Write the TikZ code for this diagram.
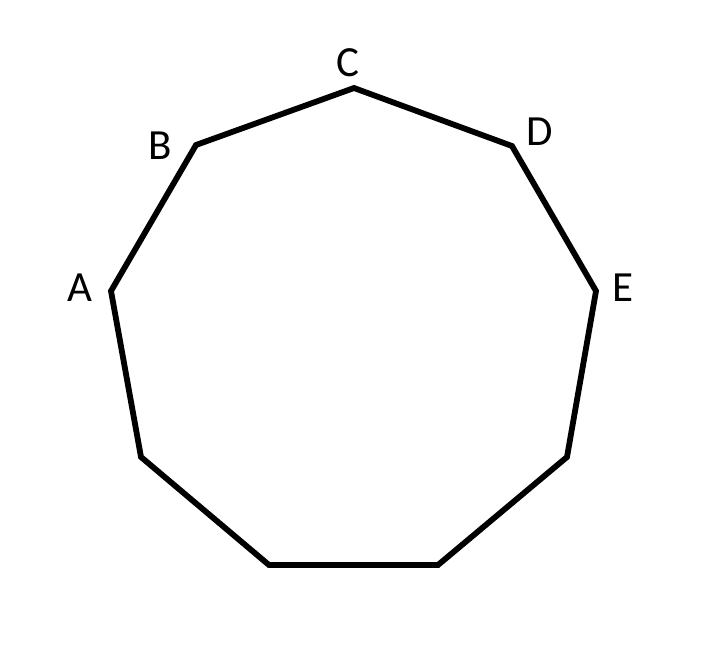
\documentclass[tikz,border=0pt]{standalone}
\usepackage{fontspec}
\setmainfont{Carlito}
\begin{document}
\begin{tikzpicture}[x=1pt,y=-1pt,
  edge/.style={line width=5.8pt,line join=miter,black},
  lab/.style={inner sep=0pt,font=\fontsize{43}{50}\selectfont}]
\useasboundingbox (0,0) rectangle (711,662);
\coordinate (A) at (111,291);
\coordinate (B) at (196,145);
\coordinate (C) at (354,88);
\coordinate (D) at (512,146);
\coordinate (E) at (596,291);
\coordinate (F) at (567,457);
\coordinate (G) at (438,565);
\coordinate (H) at (269,565);
\coordinate (I) at (141,457);
\draw[edge] (A) -- (B) -- (C) -- (D) -- (E) -- (F) -- (G) -- (H) -- (I) -- cycle;
\node[lab] (lA) at (80,288) {A};
\node[lab] (lB) at (160,146) {B};
\node[lab] (lC) at (348,63) {C};
\node[lab] (lD) at (540,132) {D};
\node[lab] (lE) at (623,288) {E};
\end{tikzpicture}
\end{document}
